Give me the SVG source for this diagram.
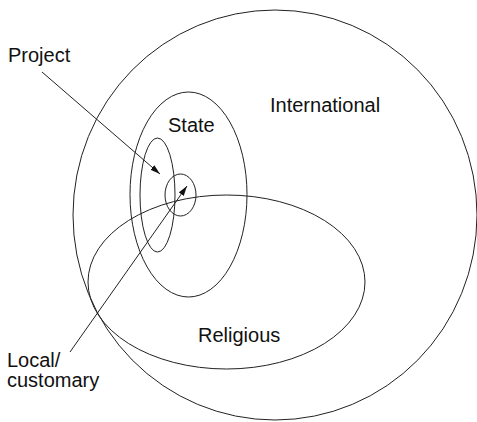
<svg xmlns="http://www.w3.org/2000/svg" width="477" height="422" viewBox="0 0 477 422">
<style>
.shape{fill:none;stroke:#222;stroke-width:1}
.lbl{font-family:"Liberation Sans",Arial,sans-serif;font-size:20px;fill:#111}
.conn{stroke:#222;stroke-width:1;fill:none}
</style>
<defs>
<marker id="arr" viewBox="0 0 10 6" refX="10" refY="3" markerWidth="10" markerHeight="6" markerUnits="userSpaceOnUse" orient="auto">
<path d="M0,0 L10,3 L0,6 Z" fill="#111"/>
</marker>
</defs>
<rect width="477" height="422" fill="#fff"/>
<g id="international">
<ellipse class="shape" cx="275" cy="215" rx="202" ry="205"/>
<text class="lbl" x="270" y="112">International</text>
</g>
<g id="state">
<ellipse class="shape" cx="188.5" cy="194.5" rx="58.5" ry="102.5"/>
<text class="lbl" x="168" y="132">State</text>
</g>
<g id="project">
<ellipse class="shape" cx="157.5" cy="195" rx="17.5" ry="57"/>
<text class="lbl" x="8" y="62">Project</text>
</g>
<g id="local">
<ellipse class="shape" cx="180.5" cy="195" rx="15.5" ry="21"/>
<text class="lbl" x="7" y="367">Local/</text>
<text class="lbl" x="7" y="387">customary</text>
</g>
<g id="religious">
<ellipse class="shape" cx="226.5" cy="282" rx="138.5" ry="87"/>
<text class="lbl" x="198" y="342">Religious</text>
</g>
<g id="connectors">
<line class="conn" x1="42" y1="72" x2="160" y2="174" marker-end="url(#arr)"/>
<line class="conn" x1="70" y1="352" x2="187" y2="186" marker-end="url(#arr)"/>
</g>
</svg>
